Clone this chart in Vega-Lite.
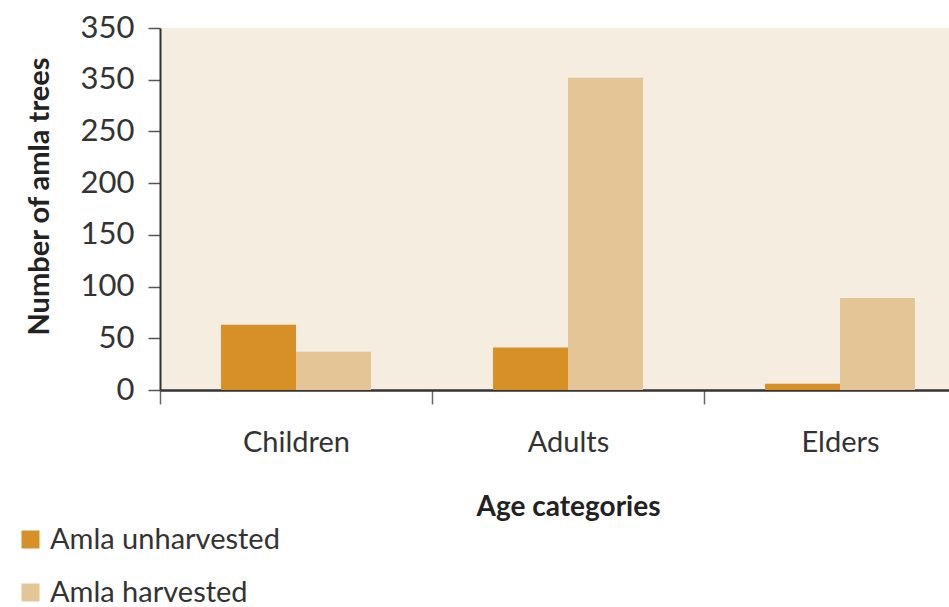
{
  "$schema": "https://vega.github.io/schema/vega-lite/v6.json",
  "width": 789,
  "height": 362,
  "autosize": {"type": "none"},
  "padding": {"left": 160, "top": 28, "right": 0, "bottom": 217},
  "background": "white",
  "config": {
    "view": {"fill": "#F5EDE0", "stroke": null},
    "font": "Lato"
  },
  "data": {
    "values": [
      {"age": "Children", "status": "Amla unharvested", "trees": 63},
      {"age": "Children", "status": "Amla harvested", "trees": 37},
      {"age": "Adults", "status": "Amla unharvested", "trees": 41},
      {"age": "Adults", "status": "Amla harvested", "trees": 302},
      {"age": "Elders", "status": "Amla unharvested", "trees": 6},
      {"age": "Elders", "status": "Amla harvested", "trees": 89}
    ]
  },
  "mark": {"type": "bar"},
  "encoding": {
    "x": {
      "field": "age",
      "type": "nominal",
      "sort": ["Children", "Adults", "Elders"],
      "scale": {"range": [0, 816], "paddingInner": 0, "paddingOuter": 0},
      "axis": {
        "title": "Age categories",
        "titleFontSize": 28,
        "titleFontWeight": "bold",
        "titleColor": "#222",
        "titlePadding": 36,
        "labelAngle": 0,
        "labelFontSize": 29,
        "labelFontWeight": "normal",
        "labelColor": "#333",
        "labelPadding": 24,
        "tickBand": "extent",
        "tickSize": 14,
        "tickColor": "#666",
        "tickWidth": 1.5,
        "domainColor": "#333",
        "domainWidth": 2.5
      }
    },
    "xOffset": {
      "field": "status",
      "sort": ["Amla unharvested", "Amla harvested"],
      "scale": {"paddingInner": 0, "paddingOuter": 0.813}
    },
    "y": {
      "field": "trees",
      "type": "quantitative",
      "scale": {"domain": [0, 350], "nice": false},
      "axis": {
        "values": [0, 50, 100, 150, 200, 250, 300, 350],
        "labelExpr": "datum.value == 300 ? '350' : datum.label",
        "title": "Number of amla trees",
        "titleFontSize": 29,
        "titleFontWeight": "bold",
        "titleColor": "#222",
        "titlePadding": 26,
        "titleY": 168,
        "labelFontSize": 31,
        "labelColor": "#333",
        "labelPadding": 14,
        "tickSize": 12,
        "tickColor": "#555",
        "tickWidth": 1.5,
        "domainColor": "#333",
        "domainWidth": 2,
        "grid": false
      }
    },
    "color": {
      "field": "status",
      "type": "nominal",
      "sort": ["Amla unharvested", "Amla harvested"],
      "scale": {"domain": ["Amla unharvested", "Amla harvested"], "range": ["#D69027", "#E3C596"]},
      "legend": {
        "orient": "none",
        "legendX": -144,
        "legendY": 497,
        "title": null,
        "symbolType": "square",
        "symbolSize": 324,
        "symbolStrokeWidth": 0,
        "labelFontSize": 29,
        "labelColor": "#333",
        "labelOffset": 5,
        "rowPadding": 23,
        "labelLimit": 400
      }
    }
  }
}
